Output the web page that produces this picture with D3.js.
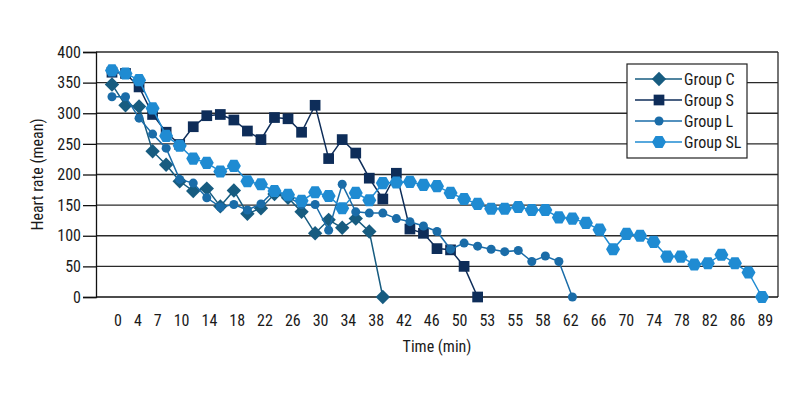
<!DOCTYPE html>
<html>
<head>
<meta charset="utf-8">
<script src="https://cdn.jsdelivr.net/npm/d3@7/dist/d3.min.js"></script>
<style>
  html, body { margin: 0; padding: 0; background: #fff; }
  svg text { font-family: "Liberation Sans Narrow", "Roboto Condensed", "DejaVu Sans Condensed", sans-serif; fill: #1a1a1a; }
</style>
</head>
<body>
<svg id="chart" width="800" height="400"></svg>
<script>
// ---- data ----
const samples = [0,1,2,3,4,5,6,7,8,9,10,11,12,13,14,15,16,17,18,19,20,21,22,23,24,25,26,27,28,29,30,31,32,33,34,35,36,37,38,39,40,41,42,43,44,45,46,47,48];
const tickLabels = ["0","4","7","10","14","18","22","26","30","34","38","42","46","50","53","55","58","62","66","70","74","78","82","86","89"];
const yTicks = [0,50,100,150,200,250,300,350,400];
const seriesNames = ["Group C","Group S","Group L","Group SL"];
const groupC = [347,313,311,238,216,189,173,177,148,174,136,145,168,162,139,104,126,113,128,107,0];
const groupS = [367,365,343,298,269,249,278,296,298,289,271,257,293,291,269,313,226,257,235,194,160,202,111,104,79,77,50,0];
const groupL = [327,327,292,266,243,192,186,162,147,151,142,152,174,163,151,151,109,184,139,137,137,128,123,116,107,78,88,83,78,74,76,58,67,58,0];
const groupSL = [370,365,354,308,263,247,226,219,205,214,189,184,173,167,157,171,165,145,170,158,186,187,188,183,181,170,160,152,144,144,147,142,142,130,128,121,110,78,103,100,90,66,66,53,55,69,55,40,0];

// ---- styles ----
const colors = ["#175c80", "#0e2d59", "#1a6ca8", "#1f8bd2"];
const shapes = ["diamond", "square", "circle", "hexagon"];

const svg = d3.select("#chart");
const plot = { left: 96, right: 778, top: 52, bottom: 297 };

const x = d3.scalePoint().domain(samples).range([plot.left, plot.right]).padding(1.18);
const y = d3.scaleLinear().domain([0, 400]).range([plot.bottom, plot.top]);

// gridlines
svg.append("g").selectAll("line").data(yTicks.filter(d => d > 0)).join("line")
  .attr("x1", plot.left).attr("x2", plot.right)
  .attr("y1", d => y(d)).attr("y2", d => y(d))
  .attr("stroke", "#2a2a2a").attr("stroke-width", 1.3);

// plot right border
svg.append("line").attr("x1", plot.right).attr("x2", plot.right)
  .attr("y1", plot.top).attr("y2", plot.bottom)
  .attr("stroke", "#2a2a2a").attr("stroke-width", 1.3);

// y axis
const yAxis = d3.axisLeft(y).tickValues(yTicks).tickSize(13).tickPadding(2);
const yg = svg.append("g").attr("transform", `translate(${plot.left},0)`).call(yAxis);
yg.select(".domain").attr("stroke", "#111").attr("stroke-width", 1.3);
yg.selectAll(".tick line").attr("stroke", "#111").attr("stroke-width", 1.3);
yg.selectAll(".tick text").attr("font-size", 16).attr("fill", "#1a1a1a")
  .style("font-family", '"Liberation Sans Narrow", "Roboto Condensed", "DejaVu Sans Condensed", sans-serif');

// x axis line
svg.append("line").attr("x1", plot.left).attr("x2", plot.right)
  .attr("y1", plot.bottom).attr("y2", plot.bottom)
  .attr("stroke", "#111").attr("stroke-width", 1.3);

// x tick labels (every other sample), pushed apart so they keep clear of each other
const lx = d3.scalePoint().domain(tickLabels).range([x(samples[0]) - 15, x(samples[samples.length - 1])]);
const xt = svg.append("g").selectAll("text").data(tickLabels).join("text")
  .attr("y", 326).attr("font-size", 16).attr("text-anchor", "middle")
  .attr("x", d => lx(d)).text(d => d);
let minLeft = x(samples[0]) + 2;
xt.each(function(d) {
  const w = this.getComputedTextLength();
  let cx = lx(d);
  if (cx - w / 2 < minLeft) cx = minLeft + w / 2;
  d3.select(this).attr("x", cx);
  minLeft = cx + w / 2 + 12;
});

// axis titles
svg.append("text").attr("x", (plot.left + plot.right) / 2).attr("y", 352)
  .attr("text-anchor", "middle").attr("font-size", 16).text("Time (min)");
svg.append("text").attr("transform", `translate(43,${(plot.top + plot.bottom) / 2}) rotate(-90)`)
  .attr("text-anchor", "middle").attr("font-size", 16).text("Heart rate (mean)");

// marker path generator
function polygon(r, n, rot) {
  const pts = d3.range(n).map(k => [r * Math.cos(rot + k * 2 * Math.PI / n), r * Math.sin(rot + k * 2 * Math.PI / n)]);
  return "M" + pts.map(p => p.map(v => v.toFixed(2)).join(",")).join("L") + "Z";
}
function markerPath(shape) {
  if (shape === "diamond") return polygon(7.2, 4, -Math.PI / 2);
  if (shape === "square") return d3.symbol(d3.symbolSquare, 115)();
  if (shape === "circle") return d3.symbol(d3.symbolCircle, 64)();
  return polygon(7, 6, 0);
}

const allSeries = [groupC, groupS, groupL, groupSL];
const line = d3.line().x((d, i) => x(samples[i])).y(d => y(d));

allSeries.forEach((vals, s) => {
  const g = svg.append("g");
  g.append("path").datum(vals).attr("d", line)
    .attr("fill", "none").attr("stroke", colors[s]).attr("stroke-width", 1.5);
  g.selectAll("path.m").data(vals).join("path").attr("class", "m")
    .attr("transform", (d, i) => `translate(${x(samples[i])},${y(d)})`)
    .attr("d", markerPath(shapes[s]))
    .attr("fill", colors[s]);
});

// legend
const lg = svg.append("g").attr("transform", "translate(627,64)");
lg.append("rect").attr("x", 0).attr("y", 0).attr("width", 120).attr("height", 94)
  .attr("fill", "#fff").attr("stroke", "#222").attr("stroke-width", 1.2);
seriesNames.forEach((name, s) => {
  const cy = 15 + s * 21;
  lg.append("line").attr("x1", 8).attr("x2", 55).attr("y1", cy).attr("y2", cy)
    .attr("stroke", colors[s]).attr("stroke-width", 1.5);
  lg.append("path").attr("transform", `translate(32,${cy})`).attr("d", markerPath(shapes[s])).attr("fill", colors[s]);
  lg.append("text").attr("x", 57).attr("y", cy + 5.5).attr("font-size", 16).text(name);
});
</script>
</body>
</html>
